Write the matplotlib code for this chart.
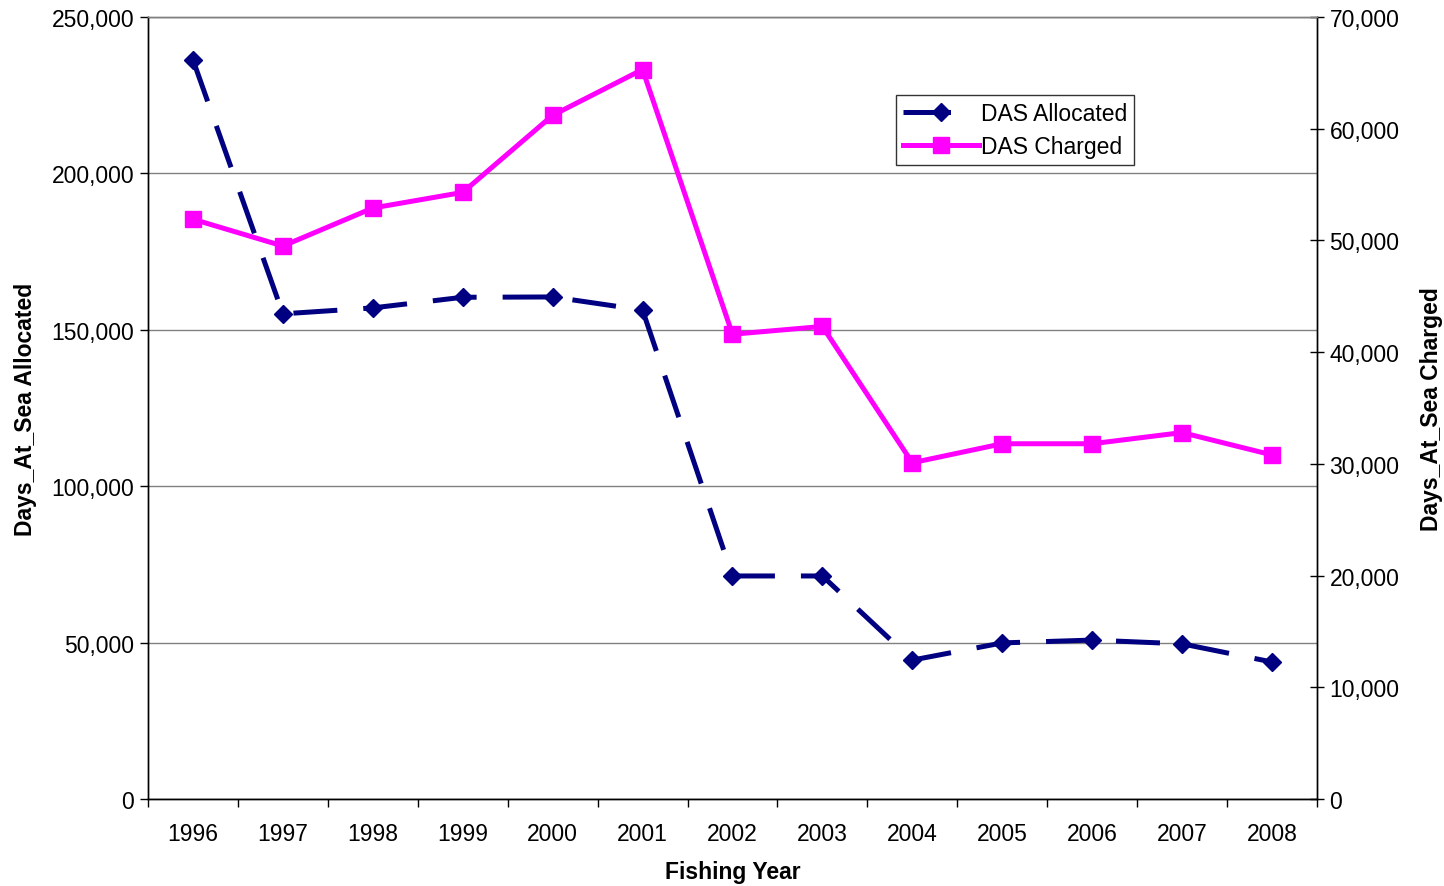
import matplotlib
matplotlib.use("Agg")
import matplotlib.pyplot as plt
from matplotlib.lines import Line2D
from matplotlib.ticker import FuncFormatter, FixedLocator

plt.rcParams['font.family'] = ['Liberation Sans', 'DejaVu Sans']

years = ["1996", "1997", "1998", "1999", "2000", "2001", "2002",
         "2003", "2004", "2005", "2006", "2007", "2008"]
das_allocated = [236300, 155100, 157000, 160400, 160500, 156300, 71300,
                 71300, 44400, 49900, 50800, 49600, 43800]
das_charged = [51900, 49500, 52900, 54300, 61200, 65300, 41600,
               42300, 30100, 31800, 31800, 32800, 30800]

navy = "#000080"
magenta = "#FF00FF"
fs = 16.5

fig = plt.figure(figsize=(14.44, 8.87), dpi=100)
ax = fig.add_axes([0.1025, 0.0981, 0.8095, 0.8816])
ax2 = ax.twinx()

x = list(range(len(years)))

# gridlines from the left axis
ax.set_ylim(0, 250000)
ax.set_yticks(range(0, 250001, 50000))
ax.grid(axis='y', color='#808080', linewidth=1.0)
ax.set_axisbelow(True)

ax.set_xlim(-0.5, len(years) - 0.5)
ax.xaxis.set_major_locator(FixedLocator([i - 0.5 for i in range(len(years) + 1)]))
ax.xaxis.set_minor_locator(FixedLocator(x))
ax.set_xticklabels([])
ax.set_xticklabels(years, minor=True)
ax.tick_params(axis='x', which='major', direction='out', length=6, width=1)
ax.tick_params(axis='x', which='minor', length=0, pad=16.5, labelsize=fs)
ax.tick_params(axis='y', direction='out', length=6, width=1, labelsize=fs, pad=4)

fmt = FuncFormatter(lambda v, p: f"{int(v):,}")
ax.yaxis.set_major_formatter(fmt)

ax2.set_ylim(0, 70000)
ax2.set_yticks(range(0, 70001, 10000))
ax2.yaxis.set_major_formatter(fmt)
ax2.tick_params(axis='y', direction='inout', length=10, width=1, labelsize=fs, pad=4)

for a in (ax, ax2):
    for s in a.spines.values():
        s.set_linewidth(1.0)
    a.spines['top'].set_color('#808080')

dashes = (8.8, 5.2)
line1, = ax.plot(x, das_allocated, color=navy, linewidth=3.6, marker='D',
                 markersize=9, dash_capstyle='butt', label="DAS Allocated",
                 zorder=3)
line1.set_dashes(dashes)
line2, = ax2.plot(x, das_charged, color=magenta, linewidth=3.6, marker='s',
                  markersize=11.5, label="DAS Charged", zorder=3)

ax.set_xlabel("Fishing Year", fontsize=fs, fontweight='bold', labelpad=11)
ax.set_ylabel("Days_At_Sea Allocated", fontsize=fs, fontweight='bold', labelpad=10)
ax2.set_ylabel("Days_At_Sea Charged", fontsize=fs, fontweight='bold', labelpad=15)

# legend key for the dashed series shows a single dash
key1 = Line2D([], [], color=navy, linewidth=3.6, marker='D', markersize=9,
              dash_capstyle='butt', dashes=(9.5, 30))
leg = ax2.legend([key1, line2], ["DAS Allocated", "DAS Charged"],
                 loc='upper left', bbox_to_anchor=(0.64, 0.9), fontsize=fs,
                 frameon=True, fancybox=False, edgecolor='black',
                 handlelength=3.3, handletextpad=0.1, borderpad=0.3,
                 labelspacing=0.42, borderaxespad=0)
leg.get_frame().set_linewidth(1.0)

fig.savefig("out.png", dpi=100)
